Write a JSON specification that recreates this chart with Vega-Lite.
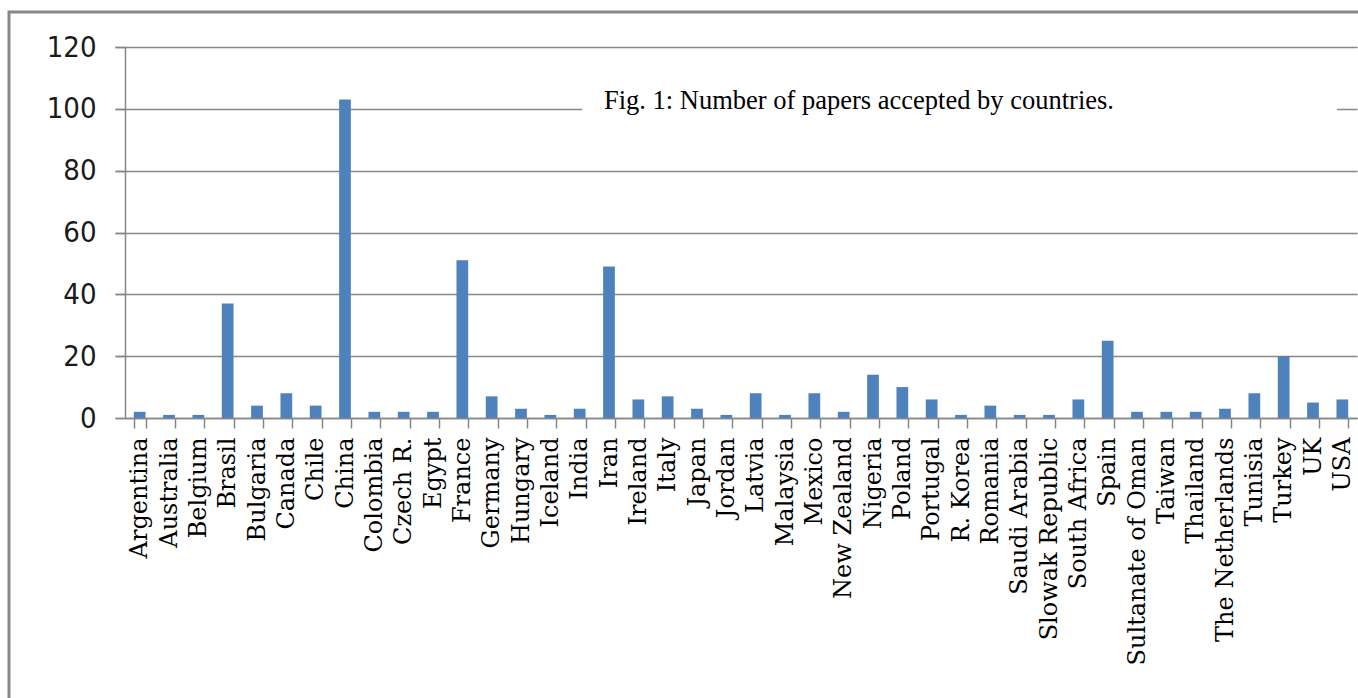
{
  "$schema": "https://vega.github.io/schema/vega-lite/v6.json",
  "width": 1360,
  "height": 700,
  "autosize": {"type": "none"},
  "padding": {"left": 9, "top": 12, "right": 0, "bottom": 0},
  "background": "white",
  "config": {"view": {"stroke": "#878787", "strokeWidth": 3}},
  "datasets": {
    "papers": [
      {"country": "Argentina", "papers": 2},
      {"country": "Australia", "papers": 1},
      {"country": "Belgium", "papers": 1},
      {"country": "Brasil", "papers": 37},
      {"country": "Bulgaria", "papers": 4},
      {"country": "Canada", "papers": 8},
      {"country": "Chile", "papers": 4},
      {"country": "China", "papers": 103},
      {"country": "Colombia", "papers": 2},
      {"country": "Czech R.", "papers": 2},
      {"country": "Egypt", "papers": 2},
      {"country": "France", "papers": 51},
      {"country": "Germany", "papers": 7},
      {"country": "Hungary", "papers": 3},
      {"country": "Iceland", "papers": 1},
      {"country": "India", "papers": 3},
      {"country": "Iran", "papers": 49},
      {"country": "Ireland", "papers": 6},
      {"country": "Italy", "papers": 7},
      {"country": "Japan", "papers": 3},
      {"country": "Jordan", "papers": 1},
      {"country": "Latvia", "papers": 8},
      {"country": "Malaysia", "papers": 1},
      {"country": "Mexico", "papers": 8},
      {"country": "New Zealand", "papers": 2},
      {"country": "Nigeria", "papers": 14},
      {"country": "Poland", "papers": 10},
      {"country": "Portugal", "papers": 6},
      {"country": "R. Korea", "papers": 1},
      {"country": "Romania", "papers": 4},
      {"country": "Saudi Arabia", "papers": 1},
      {"country": "Slowak Republic", "papers": 1},
      {"country": "South Africa", "papers": 6},
      {"country": "Spain", "papers": 25},
      {"country": "Sultanate of Oman", "papers": 2},
      {"country": "Taiwan", "papers": 2},
      {"country": "Thailand", "papers": 2},
      {"country": "The Netherlands", "papers": 3},
      {"country": "Tunisia", "papers": 8},
      {"country": "Turkey", "papers": 20},
      {"country": "UK", "papers": 5},
      {"country": "USA", "papers": 6}
    ],
    "caption": [
      {"note": "Fig. 1: Number of papers accepted by countries."}
    ]
  },
  "layer": [
    {
      "data": {"name": "papers"},
      "mark": {"type": "bar", "color": "#4F81BD"},
      "encoding": {
        "x": {
          "field": "country",
          "type": "nominal",
          "sort": null,
          "scale": {"range": [116, 1348], "paddingInner": 0.6, "paddingOuter": 0.3},
          "axis": {
            "orient": "bottom",
            "offset": -294,
            "title": null,
            "labelAngle": -90,
            "labelFont": "DejaVu Serif",
            "labelFontSize": 24,
            "labelColor": "#000000",
            "labelPadding": 9,
            "labelOverlap": false,
            "labelLimit": 0,
            "tickBand": "extent",
            "tickSize": 10,
            "tickColor": "#878787",
            "tickWidth": 1.5,
            "domainColor": "#878787",
            "domainWidth": 1.5,
            "grid": false
          }
        },
        "y": {
          "field": "papers",
          "type": "quantitative",
          "scale": {"domain": [0, 120], "range": [406, 35], "nice": false, "zero": true},
          "axis": {
            "orient": "left",
            "offset": -116,
            "title": null,
            "values": [0, 20, 40, 60, 80, 100, 120],
            "grid": false,
            "labelFont": "DejaVu Sans Condensed, Lato, sans-serif",
            "labelFontSize": 29,
            "labelColor": "#1a1a1a",
            "labelPadding": 19,
            "tickSize": 10,
            "tickColor": "#878787",
            "tickWidth": 1.5,
            "domainColor": "#878787",
            "domainWidth": 1.5
          }
        }
      }
    },
    {
      "data": {"name": "caption"},
      "mark": {"type": "rect", "color": "white"},
      "encoding": {
        "x": {"datum": "India", "bandPosition": 0.7},
        "x2": {"datum": "USA", "bandPosition": 0.05},
        "y": {
          "datum": 97,
          "type": "quantitative",
          "axis": {
            "orient": "right",
            "offset": -12,
            "title": null,
            "values": [0, 20, 40, 60, 80, 100, 120],
            "labels": false,
            "domain": false,
            "grid": false,
            "tickSize": -1242,
            "tickColor": "#878787",
            "tickWidth": 1.5
          }
        },
        "y2": {"datum": 104}
      }
    },
    {
      "data": {"name": "caption"},
      "mark": {"type": "text", "font": "Liberation Serif", "fontSize": 26.5, "color": "#000000", "align": "left", "baseline": "alphabetic", "dx": -5},
      "encoding": {
        "x": {"datum": "Iran"},
        "y": {"datum": 100, "type": "quantitative", "axis": null},
        "text": {"field": "note", "type": "nominal"}
      }
    }
  ],
  "resolve": {"axis": {"y": "independent"}}
}
